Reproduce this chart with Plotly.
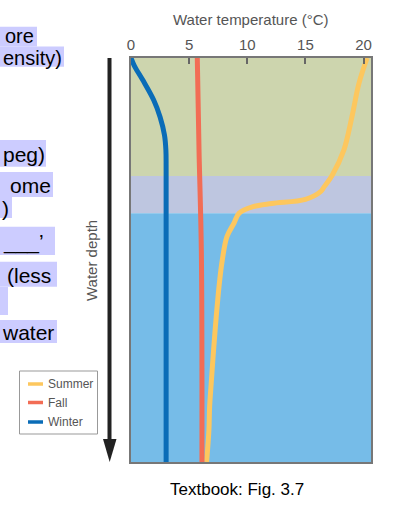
import plotly.graph_objects as go

# ---------------- data ----------------
summer_depth = [0, 6.3, 14.5, 22.8, 29.0, 31.9, 33.1, 35.0, 36.0, 36.8, 38.4, 40.9, 44.2, 50.0, 55.7, 64.0, 72.3, 80.4, 86.3, 92.1, 100]
summer_temp = [20.3, 19.6, 19.0, 18.3, 17.3, 16.6, 16.3, 15.0, 12.1, 10.5, 9.3, 8.85, 8.25, 7.85, 7.6, 7.33, 7.1, 6.9, 6.76, 6.7, 6.5]

fall_depth = [0, 23, 48, 100]
fall_temp = [5.7, 5.85, 6.05, 6.1]

winter_depth = [0, 2, 5.4, 10.4, 14.6, 19.1, 22.8, 28, 100]
winter_temp = [0, 0.3, 1.0, 1.95, 2.5, 2.88, 3.0, 3.02, 3.02]

x_ticks = [0, 5, 10, 15, 20]

layer_names = ["epilimnion", "thermocline", "hypolimnion"]
layer_top = [0, 29.2, 38.4]
layer_bottom = [29.2, 38.4, 100]
layer_colors = ["#CDD5AE", "#BEC6E0", "#76BCE8"]

series_names = ["Summer", "Fall", "Winter"]
series_colors = ["#FDC75E", "#F26D55", "#0A6CB7"]

side_text = ["ore", "ensity)", "peg)", "ome", ")", "___’", "(less", "", "water"]

# ---------------- layout geometry ----------------
W, H = 397, 518
L, R, T, B = 131, 26, 58, 56
PW, PH = W - L - R, H - T - B


def px(x):
    return (x - L) / PW


def py(y):
    return (H - B - y) / PH


fig = go.Figure()

data_series = [(summer_temp, summer_depth), (fall_temp, fall_depth), (winter_temp, winter_depth)]
for name, color, (t, d) in zip(series_names, series_colors, data_series):
    fig.add_trace(go.Scatter(x=t, y=d, mode="lines", name=name,
                             line=dict(color=color, width=5, shape="spline", smoothing=1.0),
                             showlegend=False, hoverinfo="skip"))

shapes = []
for top, bot, c in zip(layer_top, layer_bottom, layer_colors):
    shapes.append(dict(type="rect", xref="paper", yref="y", x0=0, x1=1, y0=top, y1=bot,
                       fillcolor=c, line=dict(width=0), layer="below"))

# depth arrow
shapes.append(dict(type="line", xref="paper", yref="paper", x0=px(109.5), x1=px(109.5),
                   y0=py(58), y1=py(445), line=dict(color="#222222", width=4)))
shapes.append(dict(type="path", xref="paper", yref="paper",
                   path=f"M {px(103)} {py(439)} L {px(116.5)} {py(439)} L {px(109.7)} {py(462)} Z",
                   fillcolor="#222222", line=dict(width=0)))

# legend box
shapes.append(dict(type="rect", xref="paper", yref="paper", x0=px(19.5), x1=px(97.5),
                   y0=py(434), y1=py(371), line=dict(color="#999999", width=1), fillcolor="white"))
legend_y = [384, 402.5, 422]
annotations = []
for name, color, ly in zip(series_names, series_colors, legend_y):
    shapes.append(dict(type="line", xref="paper", yref="paper", x0=px(28), x1=px(43),
                       y0=py(ly), y1=py(ly), line=dict(color=color, width=3.5)))
    annotations.append(dict(xref="paper", yref="paper", x=px(46), y=py(ly), text=name,
                            showarrow=False, xanchor="left", yanchor="middle",
                            font=dict(size=12, color="#555555", family="Liberation Sans, Arial")))

# cut-off slide text with highlight (box top, box bottom, box right, text right, text centre y, size)
side_boxes = [(26.7, 46.5, 37, 35, 36.0, 20), (46.5, 66.7, 64, 63, 58.0, 20), (140, 166.7, 46, 46, 154, 21),
              (172, 197, 53, 52, 185.5, 21), (197, 218, 12, 10, 208.5, 21), (226.7, 255, 55, 45, 241.8, 21),
              (261.7, 286.7, 57, 52, 275.2, 21), (287, 315, 8, 8, 302, 21), (320, 343, 57, 55, 332.5, 21)]
for txt, (y0, y1, xr, xt, yc, fs) in zip(side_text, side_boxes):
    shapes.append(dict(type="rect", xref="paper", yref="paper", x0=px(0), x1=px(xr),
                       y0=py(y1), y1=py(y0), fillcolor="#CCCCFF", line=dict(width=0)))
    if txt:
        annotations.append(dict(xref="paper", yref="paper", x=px(xt), y=py(yc), text=txt,
                                showarrow=False, xanchor="right", yanchor="middle", borderpad=0,
                                font=dict(size=fs, color="black", family="Liberation Sans, Arial")))

annotations.append(dict(xref="paper", yref="paper", x=px(250), y=py(20), text="Water temperature (°C)",
                        showarrow=False, xanchor="center", yanchor="middle",
                        font=dict(size=15, color="#555555", family="Liberation Sans, Arial")))
annotations.append(dict(xref="paper", yref="paper", x=px(91), y=py(261), text="Water depth",
                        showarrow=False, textangle=-90, xanchor="center", yanchor="middle",
                        font=dict(size=15, color="#555555", family="Liberation Sans, Arial")))
annotations.append(dict(xref="paper", yref="paper", x=px(237), y=py(489), text="Textbook: Fig. 3.7",
                        showarrow=False, xanchor="center", yanchor="middle",
                        font=dict(size=17, color="black", family="Liberation Sans, Arial")))

fig.update_layout(
    width=W, height=H,
    margin=dict(l=L, r=R, t=T, b=B, pad=0),
    paper_bgcolor="white", plot_bgcolor="white",
    shapes=shapes, annotations=annotations,
    showlegend=False,
    xaxis=dict(range=[0, PW / 11.63], side="top", tickvals=x_ticks, ticks="inside", ticklen=6,
               tickcolor="#666666", tickwidth=1.5, showgrid=False, zeroline=False,
               showline=True, linecolor="#777777", linewidth=1.5, mirror=True,
               tickfont=dict(size=15, color="#555555", family="Liberation Sans, Arial")),
    yaxis=dict(range=[100, 0], showticklabels=False, ticks="", showgrid=False, zeroline=False,
               showline=True, linecolor="#777777", linewidth=1.5, mirror=True),
)

fig.write_html("out.html", config={"displayModeBar": False},
               post_script="document.body.style.margin='0px';")
